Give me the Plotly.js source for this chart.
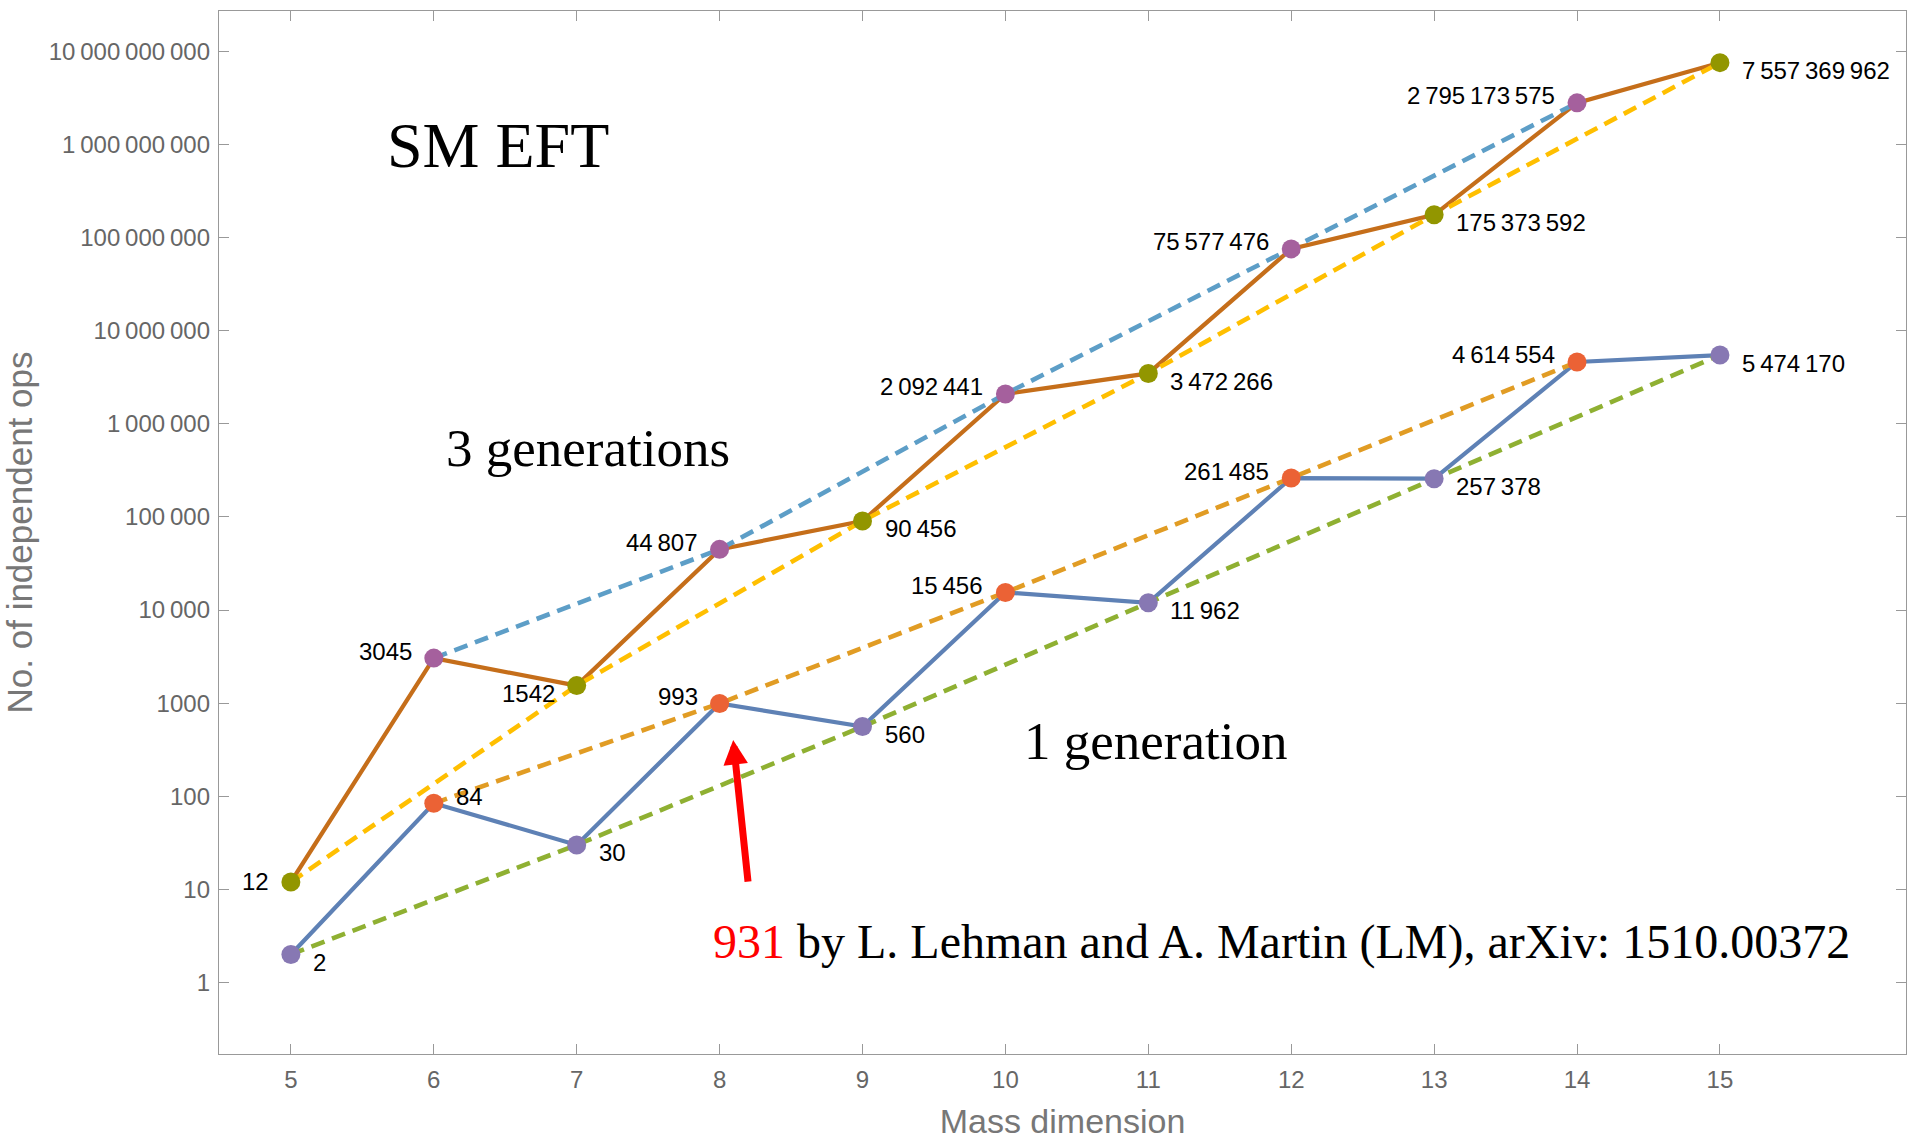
<!DOCTYPE html>
<html><head><meta charset="utf-8">
<script src="https://cdn.plot.ly/plotly-3.0.1.min.js"></script>
<style>html,body{margin:0;padding:0;background:#fff;}#chart{width:1907px;height:1140px;}</style>
</head><body><div id="chart"></div>
<script>
// ---- data ----
const dims = [5, 6, 7, 8, 9, 10, 11, 12, 13, 14, 15];
const ops1gen = [2, 84, 30, 993, 560, 15456, 11962, 261485, 257378, 4614554, 5474170];
const ops3gen = [12, 3045, 1542, 44807, 90456, 2092441, 3472266, 75577476, 175373592, 2795173575, 7557369962];
const yTickVals = [1, 10, 100, 1000, 1e4, 1e5, 1e6, 1e7, 1e8, 1e9, 1e10];
const lmText = '931';
const lmRest = ' by L. Lehman and A. Martin (LM), arXiv: 1510.00372';

// ---- styles ----
const SANS = '"Liberation Sans", Arial, Helvetica, sans-serif';
const SERIF = '"Liberation Serif", "Times New Roman", Times, serif';
const C = {blue:'#5E81B5', orange:'#E19C24', green:'#8FB032', red:'#EB6235', purple:'#8778B3',
           brown:'#C56E1A', lblue:'#5D9EC7', yellow:'#FFBF00', magenta:'#A5609D', olive:'#929600'};
const place1 = ['rd','ru','rd','lu','rd','lu','rd','lu','rd','lu','rd'];
const place3 = ['l','lu','ld','lu','rd','lu','rd','lu','rd','lu','rd'];

function fmt(v){
  const s = String(v);
  if (s.length < 5) return s;
  let out = '';
  for (let i = 0; i < s.length; i++){
    if (i > 0 && (s.length - i) % 3 === 0) out += '\u2009';
    out += s[i];
  }
  return out;
}
const pick = (arr, par) => arr.filter((_, i) => dims[i] % 2 === par);

const DASH = '14px,8px';
function lineTrace(x, y, color, dash){
  return {x, y, mode:'lines', type:'scatter', hoverinfo:'skip',
          line:{color, width: dash ? 4.6 : 4.2, dash: dash || 'solid'}};
}
function markTrace(x, y, color){
  return {x, y, mode:'markers', type:'scatter', hoverinfo:'skip',
          marker:{color, size:19, line:{width:0}}};
}

const traces = [
  lineTrace(dims, ops1gen, C.blue),
  lineTrace(pick(dims,0), pick(ops1gen,0), C.orange, DASH),
  lineTrace(pick(dims,1), pick(ops1gen,1), C.green, DASH),
  lineTrace(dims, ops3gen, C.brown),
  lineTrace(pick(dims,0), pick(ops3gen,0), C.lblue, DASH),
  lineTrace(pick(dims,1), pick(ops3gen,1), C.yellow, DASH),
  markTrace(pick(dims,0), pick(ops1gen,0), C.red),
  markTrace(pick(dims,1), pick(ops1gen,1), C.purple),
  markTrace(pick(dims,0), pick(ops3gen,0), C.magenta),
  markTrace(pick(dims,1), pick(ops3gen,1), C.olive)
];

function labelAnn(x, v, p){
  const right = p[0] === 'r';
  let ys = 1;
  if (p[1] === 'u') ys = 7;
  if (p[1] === 'd') ys = -8;
  return {x, y: Math.log10(v), xref:'x', yref:'y', text: fmt(v), showarrow:false,
          xanchor: right ? 'left' : 'right', yanchor:'middle',
          xshift: right ? 20 : -20, yshift: ys,
          font:{family:SANS, size:24, color:'#000'}};
}

const annotations = [];
dims.forEach((d, i) => annotations.push(labelAnn(d, ops1gen[i], place1[i])));
dims.forEach((d, i) => annotations.push(labelAnn(d, ops3gen[i], place3[i])));

annotations.push(
  {x:6.452, y:8.992, xref:'x', yref:'y', text:'SM EFT', showarrow:false, xanchor:'center', yanchor:'middle',
   font:{family:SERIF, size:64, color:'#000'}},
  {x:7.077, y:5.744, xref:'x', yref:'y', text:'3 generations', showarrow:false, xanchor:'center', yanchor:'middle',
   font:{family:SERIF, size:53, color:'#000'}},
  {x:11.047, y:2.598, xref:'x', yref:'y', text:'1 generation', showarrow:false, xanchor:'center', yanchor:'middle',
   font:{family:SERIF, size:53, color:'#000'}},
  {x:7.942, y:0.438, xref:'x', yref:'y', text:'<span style="color:#ff0000">' + lmText + '</span>' + lmRest,
   showarrow:false, xanchor:'left', yanchor:'middle', font:{family:SERIF, size:48, color:'#000'}},
  {x:8.095, y:2.604, xref:'x', yref:'y', text:'', showarrow:true, ax:15, ay:143, axref:'pixel', ayref:'pixel',
   arrowhead:2, arrowsize:0.7, arrowwidth:7, arrowcolor:'#ff0000', standoff:0}
);

const axisCommon = {
  showline:true, linecolor:'#999', linewidth:1.2, mirror:'ticks',
  ticks:'inside', ticklen:10, tickwidth:1, tickcolor:'#999',
  showgrid:false, zeroline:false,
  tickfont:{family:SANS, size:24, color:'#666'}
};

const layout = {
  width:1907, height:1140,
  margin:{l:219, r:1, t:11, b:86, pad:0},
  paper_bgcolor:'#fff', plot_bgcolor:'#fff',
  showlegend:false, hovermode:false,
  xaxis: Object.assign({}, axisCommon, {
    range:[4.497, 16.302], tickmode:'array', tickvals:dims, ticktext:dims.map(String),
    ticklabelstandoff:4,
    title:{text:'Mass dimension', font:{family:SANS, size:34, color:'#777'}, standoff:27}
  }),
  yaxis: Object.assign({}, axisCommon, {
    type:'log', range:[-0.768, 10.433], tickmode:'array', tickvals:yTickVals, ticktext:yTickVals.map(fmt),
    ticklabelstandoff:3,
    title:{text:'No. of independent ops', font:{family:SANS, size:35, color:'#777'}, standoff:20}
  }),
  annotations
};

Plotly.newPlot('chart', traces, layout, {staticPlot:true, displayModeBar:false});
</script></body></html>
